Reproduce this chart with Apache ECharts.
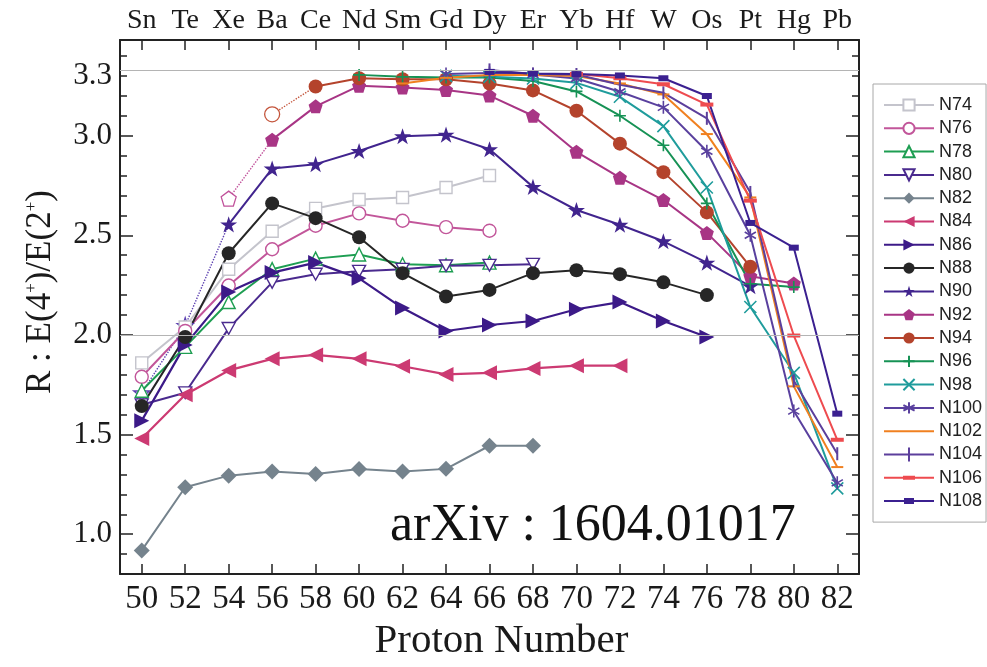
<!DOCTYPE html>
<html>
<head>
<meta charset="utf-8">
<title>R = E(4+)/E(2+) vs proton number</title>
<script src="https://cdn.jsdelivr.net/npm/echarts@6/dist/echarts.min.js"></script>
<style>
  html, body { margin: 0; padding: 0; background: #fff; }
  #chart { width: 987px; height: 667px; }
</style>
</head>
<body>
<div id="chart"></div>
<script>
// eixo x: numero de protons (par) e elementos
var protonNumbers = [50, 52, 54, 56, 58, 60, 62, 64, 66, 68, 70, 72, 74, 76, 78, 80, 82];
var elements = ['Sn', 'Te', 'Xe', 'Ba', 'Ce', 'Nd', 'Sm', 'Gd', 'Dy', 'Er', 'Yb', 'Hf', 'W', 'Os', 'Pt', 'Hg', 'Pb'];
var yLabelValues = [1.0, 1.5, 2.0, 2.5, 3.0, 3.3];
var yMajorTicks = [1.0, 1.5, 2.0, 2.5, 3.0];
var refLines = [2.0, 10 / 3];

// valores R(4/2) para cada isotono, alinhados com protonNumbers
var n74 = [1.86, 2.04, 2.33, 2.52, 2.635, 2.68, 2.69, 2.74, 2.80, null, null, null, null, null, null, null, null];
var n76 = [1.79, 2.02, 2.248, 2.43, 2.548, 2.61, 2.573, 2.541, 2.523, null, null, null, null, null, null, null, null];
var n78 = [1.72, 1.94, 2.165, 2.33, 2.383, 2.404, 2.355, 2.35, 2.363, null, null, null, null, null, null, null, null];
var n80 = [1.65, 1.71, 2.033, 2.264, 2.305, 2.32, 2.33, 2.347, 2.35, 2.355, null, null, null, null, null, null, null];
var n82 = [0.919, 1.236, 1.294, 1.315, 1.302, 1.327, 1.315, 1.328, 1.444, 1.444, null, null, null, null, null, null, null];
var n84 = [1.48, 1.70, 1.822, 1.88, 1.90, 1.88, 1.843, 1.802, 1.81, 1.832, 1.846, 1.846, null, null, null, null, null];
var n86 = [1.57, 1.95, 2.215, 2.313, 2.363, 2.284, 2.135, 2.02, 2.05, 2.07, 2.129, 2.165, 2.07, 1.99, null, null, null];
var n88 = [1.643, 1.99, 2.41, 2.66, 2.586, 2.49, 2.31, 2.193, 2.226, 2.31, 2.325, 2.305, 2.264, 2.20, null, null, null];
var n90 = [null, null, 2.555, 2.835, 2.857, 2.923, 2.997, 3.005, 2.932, 2.743, 2.627, 2.553, 2.47, 2.363, 2.245, null, null];
var n92 = [null, null, null, 2.98, 3.147, 3.25, 3.242, 3.229, 3.201, 3.10, 2.919, 2.789, 2.677, 2.512, 2.295, 2.258, null];
var n94 = [null, null, null, null, 3.247, 3.288, 3.283, 3.283, 3.262, 3.227, 3.125, 2.96, 2.817, 2.615, 2.342, null, null];
var n96 = [null, null, null, null, null, 3.305, 3.295, 3.292, 3.292, 3.274, 3.222, 3.10, 2.952, 2.66, 2.257, 2.24, null];
var n98 = [null, null, null, null, null, null, null, 3.30, 3.295, 3.287, 3.265, 3.195, 3.048, 2.74, 2.14, 1.81, 1.23];
var n100 = [null, null, null, null, null, null, null, 3.31, 3.315, 3.307, 3.287, 3.22, 3.142, 2.922, 2.50, 1.618, 1.258];
var n102 = [null, null, null, null, null, null, 3.262, 3.29, 3.304, 3.305, 3.299, 3.262, 3.207, 3.008, 2.69, 1.742, 1.337];
var n104 = [null, null, null, null, null, null, null, null, 3.33, 3.31, 3.307, 3.255, 3.215, 3.087, 2.715, 1.77, 1.404];
var n106 = [null, null, null, null, null, null, null, null, null, null, 3.31, 3.288, 3.258, 3.156, 2.674, 1.997, 1.474];
var n108 = [null, null, null, null, null, null, null, null, 3.32, 3.312, 3.309, 3.302, 3.288, 3.199, 2.562, 2.438, 1.605];

// trechos pontilhados (pontos abertos)
var n90Dotted = [1.709, 2.047, 2.555, null, null, null, null, null, null, null, null, null, null, null, null, null, null];
var n92Dotted = [null, null, 2.684, 2.98, null, null, null, null, null, null, null, null, null, null, null, null, null];
var n94Dotted = [null, null, null, 3.107, 3.247, null, null, null, null, null, null, null, null, null, null, null, null];

var SERIF = "'Liberation Serif', 'DejaVu Serif', serif";
var SANS = "'Liberation Sans', Arial, sans-serif";

// simbolos
var S = {
    star: 'path://M5,0 L6.18,3.6 L10,3.6 L6.9,5.9 L8.1,9.5 L5,7.3 L1.9,9.5 L3.1,5.9 L0,3.6 L3.82,3.6 Z',
    pent: 'path://M5,0 L10,3.8 L8.1,10 L1.9,10 L0,3.8 Z',
    left: 'path://M0,5 L10,0 L10,10 Z',
    right: 'path://M10,5 L0,0 L0,10 Z',
    down: 'path://M0,0 L10,0 L5,9 Z',
    plus: 'path://M0,5 L10,5 M5,0 L5,10',
    cross: 'path://M0,0 L10,10 M10,0 L0,10',
    aster: 'path://M5,0 L5,10 M0.7,2.5 L9.3,7.5 M9.3,2.5 L0.7,7.5',
    hbar: 'path://M0,0 L12,0 L12,2 L0,2 Z',
    vbar: 'path://M0,0 L2,0 L2,13 L0,13 Z',
    hbarThick: 'path://M0,0 L13,0 L13,4 L0,4 Z',
    block: 'path://M0,0 L10,0 L10,6 L0,6 Z'
};

// icones da legenda (linha + marcador) para as series de barrinhas
var legendIcons = {
    N102: 'path://M0,6 L50,6 L50,8 L0,8 Z',
    N104: 'path://M0,6 L50,6 L50,8 L0,8 Z M24,0 L26,0 L26,14 L24,14 Z',
    N106: 'path://M0,6 L50,6 L50,8 L0,8 Z M19,5 L31,5 L31,9 L19,9 Z',
    N108: 'path://M0,6 L50,6 L50,8 L0,8 Z M20,4 L30,4 L30,10 L20,10 Z'
};

function pares(vals) {
    var out = [];
    for (var i = 0; i < protonNumbers.length; i++) {
        if (vals[i] !== null) out.push([protonNumbers[i], vals[i]]);
    }
    return out;
}

// kind: 'open' (vazado), 'fill' (cheio), 'stroke' (so traco)
function serie(name, vals, color, symbol, size, kind, width) {
    var itemStyle;
    if (kind === 'open') itemStyle = { color: '#fff', borderColor: color, borderWidth: 1.4 };
    else if (kind === 'stroke') itemStyle = { color: color, borderColor: color, borderWidth: 1.6 };
    else itemStyle = { color: color, borderWidth: 0 };
    return {
        name: name,
        type: 'line',
        data: pares(vals),
        symbol: symbol,
        symbolSize: size,
        symbolKeepAspect: true,
        showAllSymbol: true,
        lineStyle: { color: color, width: width || 2 },
        itemStyle: itemStyle,
        emphasis: { disabled: true },
        animation: false
    };
}

function pontilhado(name, vals, color, symbol, size) {
    var pts = pares(vals);
    var data = pts.map(function (p, i) {
        return { value: p, symbolSize: i === pts.length - 1 ? 0 : size };
    });
    return {
        name: name,
        type: 'line',
        data: data,
        symbol: symbol,
        showAllSymbol: true,
        lineStyle: { color: color, width: 1.4, type: 'dotted' },
        itemStyle: { color: '#fff', borderColor: color, borderWidth: 1.3 },
        emphasis: { disabled: true },
        animation: false
    };
}

var series = [
    {
        name: 'ref',
        type: 'line',
        data: [],
        silent: true,
        markLine: {
            silent: true,
            symbol: 'none',
            label: { show: false },
            lineStyle: { color: '#b4b4b4', width: 1, type: 'solid' },
            data: refLines.map(function (v) { return { yAxis: v }; })
        },
        animation: false
    },
    pontilhado('N90d', n90Dotted, '#5b3fb0', S.star, 16),
    pontilhado('N92d', n92Dotted, '#c0509a', S.pent, 15),
    pontilhado('N94d', n94Dotted, '#c4553c', 'circle', 15),
    serie('N74', n74, '#c4c4cc', 'rect', 12, 'open', 2),
    serie('N76', n76, '#c2569a', 'circle', 13, 'open', 2),
    serie('N78', n78, '#1e9e52', 'triangle', 13, 'open', 2),
    serie('N80', n80, '#4a2a8e', S.down, 13, 'open', 2),
    serie('N82', n82, '#75838d', 'diamond', 16, 'fill', 2),
    serie('N84', n84, '#cc3a72', S.left, 15, 'fill', 2.2),
    serie('N86', n86, '#3c1a88', S.right, 15, 'fill', 2.2),
    serie('N88', n88, '#262626', 'circle', 14, 'fill', 2),
    serie('N90', n90, '#41248e', S.star, 17, 'fill', 2),
    serie('N92', n92, '#a83585', S.pent, 14, 'fill', 2),
    serie('N94', n94, '#b4432c', 'circle', 14, 'fill', 2),
    serie('N96', n96, '#169255', S.plus, 12, 'stroke', 2),
    serie('N98', n98, '#1f9c9c', S.cross, 12, 'stroke', 2),
    serie('N100', n100, '#59409e', S.aster, 13, 'stroke', 2),
    serie('N102', n102, '#f08020', S.hbar, 12, 'fill', 2),
    serie('N104', n104, '#5c3f9c', S.vbar, 13, 'fill', 2),
    serie('N106', n106, '#ee4b4f', S.hbarThick, 13, 'fill', 2),
    serie('N108', n108, '#3b2090', S.block, 10, 'fill', 2)
];

var legendNames = ['N74', 'N76', 'N78', 'N80', 'N82', 'N84', 'N86', 'N88', 'N90', 'N92',
    'N94', 'N96', 'N98', 'N100', 'N102', 'N104', 'N106', 'N108'];
var legendData = legendNames.map(function (n) {
    return legendIcons[n] ? { name: n, icon: legendIcons[n] } : { name: n };
});

// ticks menores do eixo y (a cada 0.1)
var yTicks = [];
for (var t = 8; t <= 34; t++) yTicks.push(t / 10);

var axisLineStyle = { show: true, lineStyle: { color: '#222', width: 2 } };

var myChart = echarts.init(document.getElementById('chart'), null, { renderer: 'canvas' });
var option = {
    backgroundColor: '#fff',
    animation: false,
    grid: { left: 120, right: 128, top: 40, bottom: 86 },
    legend: {
        orient: 'vertical',
        left: 873,
        top: 84,
        padding: [12, 4, 12, 10],
        itemGap: 5.3,
        itemWidth: 50,
        itemHeight: 14,
        borderColor: '#a8a8a8',
        borderWidth: 1,
        textStyle: { fontFamily: SANS, fontSize: 18, color: '#222', lineHeight: 16 },
        data: legendData,
        selectedMode: false
    },
    xAxis: [
        {
            type: 'value', min: 49, max: 83, position: 'bottom',
            axisLine: axisLineStyle,
            axisTick: { inside: true, length: 10, customValues: protonNumbers, lineStyle: { color: '#222', width: 1.5 } },
            axisLabel: { customValues: protonNumbers, fontFamily: SERIF, fontSize: 33, color: '#1a1a1a', margin: 9 },
            splitLine: { show: false },
            name: 'Proton Number',
            nameLocation: 'middle',
            nameGap: 40,
            nameTextStyle: { fontFamily: SERIF, fontSize: 41, color: '#1a1a1a', padding: [0, 0, 0, 24] }
        },
        {
            type: 'value', min: 49, max: 83, position: 'top',
            axisLine: axisLineStyle,
            axisTick: { inside: true, length: 10, customValues: protonNumbers, lineStyle: { color: '#222', width: 1.5 } },
            axisLabel: {
                customValues: protonNumbers, fontFamily: SERIF, fontSize: 28, color: '#1a1a1a', margin: 5,
                formatter: function (v) { return elements[Math.round((v - 50) / 2)]; }
            },
            splitLine: { show: false }
        }
    ],
    yAxis: [
        {
            type: 'value', min: 0.8, max: 3.48, position: 'left',
            axisLine: axisLineStyle,
            axisTick: { inside: true, length: 7, customValues: yTicks, lineStyle: { color: '#222', width: 1.5 } },
            axisLabel: {
                customValues: yLabelValues, fontFamily: SERIF, fontSize: 31, color: '#1a1a1a', margin: 8,
                formatter: function (v) { return v.toFixed(1); }
            },
            splitLine: { show: false },
            name: '{n|R : E(4}{s|+}{n|)/E(2}{s|+}{n|)}',
            nameLocation: 'middle',
            nameRotate: 90,
            nameGap: 62,
            nameTextStyle: {
                padding: [0, 0, 0, 30],
                rich: {
                    n: { fontFamily: SERIF, fontSize: 35, color: '#1a1a1a' },
                    s: { fontFamily: SERIF, fontSize: 17, color: '#1a1a1a', verticalAlign: 'top' }
                }
            }
        },
        {
            type: 'value', min: 0.8, max: 3.48, position: 'right',
            axisLine: axisLineStyle,
            axisTick: { inside: true, length: 7, customValues: yTicks, lineStyle: { color: '#222', width: 1.5 } },
            axisLabel: { show: false },
            splitLine: { show: false }
        },
        {
            type: 'value', min: 0.8, max: 3.48, position: 'left',
            axisLine: { show: false },
            axisTick: { inside: true, length: 13, customValues: yMajorTicks, lineStyle: { color: '#222', width: 1.5 } },
            axisLabel: { show: false },
            splitLine: { show: false }
        },
        {
            type: 'value', min: 0.8, max: 3.48, position: 'right',
            axisLine: { show: false },
            axisTick: { inside: true, length: 13, customValues: yMajorTicks, lineStyle: { color: '#222', width: 1.5 } },
            axisLabel: { show: false },
            splitLine: { show: false }
        }
    ],
    graphic: [
        {
            type: 'text',
            left: 390,
            top: 500,
            silent: true,
            style: { text: 'arXiv : 1604.01017', font: "52px 'Liberation Serif', serif", fill: '#111' }
        }
    ],
    series: series
};

myChart.setOption(option);
</script>
</body>
</html>
